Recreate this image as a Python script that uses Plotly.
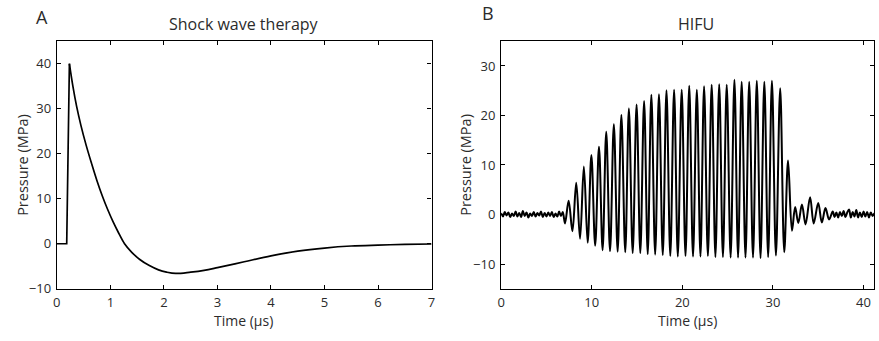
import plotly.graph_objects as go

W, H = 879, 341

# ---------------- Panel A: shock wave therapy ----------------
shock_t = [0.0, 0.185, 0.235, 0.3, 0.37, 0.45, 0.55, 0.65, 0.75, 0.85, 0.95, 1.05,
           1.15, 1.265, 1.4, 1.55, 1.72, 1.9, 2.05, 2.22, 2.5, 2.75, 3.0, 3.5, 4.0,
           4.5, 5.0, 5.5, 6.0, 6.5, 7.0]
shock_p = [0.0, 0.0, 40.0, 35.0, 30.5, 26.3, 21.8, 17.8, 14.0, 10.6, 7.6, 4.9,
           2.5, 0.0, -1.9, -3.5, -4.8, -5.8, -6.3, -6.6, -6.3, -5.9, -5.3, -4.0, -2.7,
           -1.65, -0.95, -0.5, -0.3, -0.15, -0.05]

# ---------------- Panel B: HIFU ----------------
pre_t = [0.0, 0.2, 0.4, 0.6, 0.8, 1.0, 1.2, 1.4, 1.6, 1.8, 2.0, 2.2, 2.4, 2.6, 2.8,
         3.0, 3.2, 3.4, 3.6, 3.8, 4.0, 4.2, 4.4, 4.6, 4.8, 5.0, 5.2, 5.4, 5.6, 5.8,
         6.0, 6.2, 6.4, 6.6, 6.8]
pre_p = [0.3, -0.4, 0.5, -0.2, 0.4, -0.5, 0.2, -0.3, 0.6, -0.4, 0.3, -0.5, 0.7, -0.3, 0.4,
         -0.6, 0.2, -0.3, 0.5, -0.4, 0.3, -0.2, 0.6, -0.5, 0.3, -0.4, 0.4, -0.3, 0.5, -0.5,
         0.2, -0.4, 0.6, -0.3, 0.5]

peak_t = [7.45, 8.29, 9.13, 9.96, 10.8, 11.6, 12.44, 13.27, 14.1, 14.95, 15.78, 16.58,
          17.42, 18.25, 19.09, 19.93, 20.76, 21.6, 22.4, 23.24, 24.07, 24.9, 25.75,
          26.55, 27.38, 28.22, 29.05, 29.89, 30.8, 31.67]
peak_p = [2.8, 6.4, 9.7, 12.0, 13.7, 16.7, 18.2, 20.1, 21.4, 22.2, 22.9, 24.2,
          24.3, 25.1, 25.2, 25.2, 26.0, 25.2, 25.9, 26.2, 26.3, 26.2, 27.2,
          26.8, 26.8, 27.0, 26.8, 27.0, 25.5, 10.9]

trough_t = [7.05, 7.87, 8.71, 9.55, 10.38, 11.2, 12.02, 12.86, 13.7, 14.52, 15.36, 16.18,
            17.0, 17.84, 18.67, 19.5, 20.35, 21.18, 22.0, 22.82, 23.65, 24.48, 25.33,
            26.15, 26.97, 27.8, 28.63, 29.47, 30.33, 31.25, 32.1]
trough_p = [-1.8, -3.4, -4.9, -5.7, -6.3, -7.2, -7.4, -7.5, -7.6, -7.8, -7.8, -8.0,
            -8.1, -8.2, -8.4, -8.5, -8.4, -8.5, -8.5, -8.4, -8.6, -8.6, -8.7,
            -8.7, -8.7, -8.7, -8.8, -8.6, -8.3, -7.6, -3.3]

ring_t = [32.45, 32.8, 33.2, 33.6, 34.1, 34.5, 35.0, 35.4, 35.8, 36.2]
ring_p = [1.5, -1.7, 2.0, -2.0, 3.5, -1.8, 2.3, -1.6, 1.3, -1.0]

post_t = [36.6, 36.8, 37.0, 37.2, 37.4, 37.6, 37.8, 38.0, 38.2, 38.4, 38.6, 38.8,
          39.0, 39.2, 39.4, 39.6, 39.8, 40.0, 40.2, 40.4, 40.6, 40.8, 41.0, 41.2]
post_p = [0.6, -0.5, 0.4, -0.6, 0.5, -0.3, 0.7, -0.5, 0.4, 1.0, -0.6, 0.5,
          -0.4, 0.9, -0.6, 0.4, -0.5, 0.6, -0.4, 0.5, -0.6, 0.4, -0.3, 0.3]

pairs = sorted(list(zip(pre_t, pre_p)) + list(zip(peak_t, peak_p)) +
               list(zip(trough_t, trough_p)) + list(zip(ring_t, ring_p)) +
               list(zip(post_t, post_p)))
hifu_t = [a for a, b in pairs]
hifu_p = [b for a, b in pairs]

FONT = "Open Sans, Liberation Sans, sans-serif"
TXT = "#2b2b2b"

fig = go.Figure()
fig.add_trace(go.Scatter(x=shock_t[:3], y=shock_p[:3], mode="lines",
                         line=dict(color="black", width=1.7), xaxis="x", yaxis="y",
                         showlegend=False))
fig.add_trace(go.Scatter(x=shock_t[2:], y=shock_p[2:], mode="lines",
                         line=dict(color="black", width=1.7, shape="spline", smoothing=1.0),
                         xaxis="x", yaxis="y", showlegend=False))
fig.add_trace(go.Scatter(x=hifu_t, y=hifu_p, mode="lines",
                         line=dict(color="black", width=2.0, shape="spline", smoothing=1.0),
                         xaxis="x2", yaxis="y2", showlegend=False))

def px_x(p):
    return p / W

def px_y(p):
    return 1 - p / H

ydom = [px_y(296.6), px_y(42.3)]
axis_common = dict(showline=True, linecolor="black", linewidth=1.2, mirror="ticks",
                   ticks="inside", ticklen=4, tickcolor="black", tickwidth=1,
                   showgrid=False, zeroline=False,
                   tickfont=dict(family=FONT, size=13, color=TXT))

fig.update_layout(
    width=W, height=H, autosize=False,
    margin=dict(l=0, r=0, t=0, b=0),
    paper_bgcolor="white", plot_bgcolor="white",
    xaxis=dict(domain=[px_x(53.3), px_x(431.5)], range=[0, 7], tickvals=[0, 1, 2, 3, 4, 5, 6, 7],
               anchor="y", ticklabelstandoff=2, **axis_common),
    yaxis=dict(domain=ydom, range=[-10, 45], tickvals=[-10, 0, 10, 20, 30, 40],
               ticktext=["\u221210", "0", "10", "20", "30", "40"], anchor="x",
               ticklabelstandoff=2, **axis_common),
    xaxis2=dict(domain=[px_x(501.7), px_x(878.4)], range=[0, 41.2], tickvals=[0, 10, 20, 30, 40],
                anchor="y2", ticklabelstandoff=2, **axis_common),
    yaxis2=dict(domain=ydom, range=[-15, 35], tickvals=[-10, 0, 10, 20, 30],
                ticktext=["\u221210", "0", "10", "20", "30"], anchor="x2",
                ticklabelstandoff=2, **axis_common),
)

annots = [
    dict(text="A", x=38, y=17, size=18),
    dict(text="B", x=488, y=13.5, size=18),
    dict(text="Shock wave therapy", x=242, y=25, size=16),
    dict(text="HIFU", x=698, y=25, size=16),
    dict(text="Time (\u00b5s)", x=242, y=329, size=14),
    dict(text="Time (\u00b5s)", x=690, y=329, size=14),
]
for a in annots:
    fig.add_annotation(text=a["text"], x=px_x(a["x"]), y=px_y(a["y"]), xref="paper", yref="paper",
                       xanchor="center", yanchor="middle", showarrow=False,
                       font=dict(family=FONT, size=a["size"], color=TXT))
for xc in (18, 465):
    fig.add_annotation(text="Pressure (MPa)", x=px_x(xc), y=px_y(169.5), xref="paper", yref="paper",
                       xanchor="center", yanchor="middle", showarrow=False, textangle=-90,
                       font=dict(family=FONT, size=14.5, color=TXT))

fig.write_html("out.html", config={"responsive": False})
